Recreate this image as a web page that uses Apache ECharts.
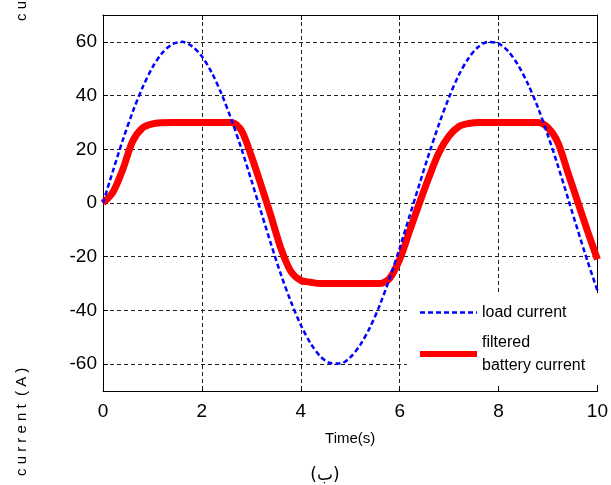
<!DOCTYPE html>
<html>
<head>
<meta charset="utf-8">
<script src="https://cdn.jsdelivr.net/npm/echarts@6/dist/echarts.min.js"></script>
<style>
  html, body { margin: 0; padding: 0; background: #fff; }
  #main { width: 611px; height: 485px; }
</style>
</head>
<body>
<div id="main"></div>
<script>
// time axis (s), read every 0.2 s
var timeS = [0, 0.2, 0.4, 0.6, 0.8, 1.0, 1.2, 1.4, 1.6, 1.8, 2.0, 2.2, 2.4, 2.6, 2.8, 3.0, 3.2, 3.4, 3.6, 3.8,
    4.0, 4.2, 4.4, 4.6, 4.8, 5.0, 5.2, 5.4, 5.6, 5.8, 6.0, 6.2, 6.4, 6.6, 6.8, 7.0, 7.2, 7.4, 7.6, 7.8,
    8.0, 8.2, 8.4, 8.6, 8.8, 9.0, 9.2, 9.4, 9.6, 9.8, 10.0];
// load current (blue dashed)
var loadCurrent = [0, 11.9, 23.4, 33.9, 43.0, 50.5, 55.9, 59.1, 60.0, 58.4, 54.6, 48.5, 40.5, 30.9, 20.2, 8.5, -3.5, -15.4, -26.7, -36.7,
    -45.4, -52.3, -57.2, -59.6, -59.8, -57.5, -52.9, -46.3, -37.9, -27.9, -16.8, -4.9, 7.0, 18.7, 29.6, 39.4, 47.8, 54.1, 58.3, 60.0,
    59.4, 56.4, 51.2, 44.1, 35.4, 25.1, 13.9, 2.0, -10.0, -21.7, -32.6];
// filtered battery current (red)
var batteryCurrent = [0, 4, 12.5, 23, 28, 29.5, 29.9, 30, 30, 30, 30, 30, 30, 30, 27, 17.5, 6.5, -5, -17, -25.5,
    -28.8, -29.5, -30, -30, -30, -30, -30, -30, -30, -28, -21, -10.5, 0, 10, 19, 25, 28.5, 29.6, 30, 30,
    30, 30, 30, 30, 30, 28, 22.5, 11.5, 0.5, -10.5, -21];
var yTicks = [-60, -40, -20, 0, 20, 40, 60];

var myChart = echarts.init(document.getElementById('main'));
var fontMain = "'Liberation Sans', Arial, sans-serif";

function pairs(vals) {
    return timeS.map(function (t, i) { return [t, vals[i]]; });
}

myChart.setOption({
    backgroundColor: '#fff',
    animation: false,
    grid: {
        left: 103,
        right: 12,
        top: 15,
        bottom: 94
    },
    legend: {
        orient: 'vertical',
        left: 407,
        top: 293,
        padding: [8, 14, 8, 10],
        itemGap: 7,
        itemWidth: 57,
        itemHeight: 14,
        backgroundColor: '#fff',
        itemStyle: { opacity: 0 },
        data: [
            { name: 'load current', lineStyle: { width: 2.5, type: [5, 3], color: '#0000ff' } },
            { name: 'filtered\nbattery current', lineStyle: { width: 6, color: '#ff0000' } }
        ],
        textStyle: {
            fontFamily: fontMain,
            fontSize: 16,
            lineHeight: 23,
            color: '#000'
        }
    },
    xAxis: [
        {
            type: 'value',
            min: 0,
            max: 10,
            interval: 2,
            axisLine: { onZero: false, lineStyle: { color: '#000', width: 1 } },
            axisTick: { inside: true, length: 5, lineStyle: { color: '#000' } },
            axisLabel: {
                margin: 11,
                color: '#000',
                fontFamily: fontMain,
                fontSize: 19
            },
            splitLine: {
                show: true,
                lineStyle: { color: '#222', type: [4, 3], width: 1 }
            },
            name: 'Time(s)',
            nameLocation: 'middle',
            nameGap: 40,
            nameTextStyle: {
                color: '#000',
                fontFamily: fontMain,
                fontSize: 15
            }
        },
        {
            type: 'value',
            position: 'top',
            min: 0,
            max: 10,
            interval: 2,
            axisLine: { show: true, onZero: false, lineStyle: { color: '#000', width: 1 } },
            axisTick: { show: true, inside: true, length: 5, lineStyle: { color: '#000' } },
            axisLabel: { show: false },
            splitLine: { show: false }
        }
    ],
    yAxis: [
        {
            type: 'value',
            min: -70,
            max: 70,
            axisLine: { show: true, onZero: false, lineStyle: { color: '#000', width: 1 } },
            axisTick: { show: true, inside: true, length: 5, customValues: yTicks, lineStyle: { color: '#000' } },
            axisLabel: {
                customValues: yTicks,
                margin: 6,
                color: '#000',
                fontFamily: fontMain,
                fontSize: 19
            },
            splitLine: {
                show: true,
                lineStyle: { color: '#222', type: [4, 3], width: 1 }
            }
        },
        {
            type: 'value',
            position: 'right',
            min: -70,
            max: 70,
            axisLine: { show: true, onZero: false, lineStyle: { color: '#000', width: 1 } },
            axisTick: { show: true, inside: true, length: 5, customValues: yTicks, lineStyle: { color: '#000' } },
            axisLabel: { show: false },
            splitLine: { show: false }
        }
    ],
    series: [
        {
            name: 'filtered\nbattery current',
            type: 'line',
            symbol: 'none',
            smooth: 0.3,
            lineStyle: { color: '#ff0000', width: 7 },
            itemStyle: { color: '#ff0000' },
            data: pairs(batteryCurrent)
        },
        {
            name: 'load current',
            type: 'line',
            symbol: 'none',
            smooth: 0.3,
            lineStyle: { color: '#0000ff', width: 2.5, type: [5, 3] },
            itemStyle: { color: '#0000ff' },
            data: pairs(loadCurrent)
        }
    ],
    graphic: [
        {
            type: 'text',
            x: 14,
            y: 476,
            rotation: Math.PI / 2,
            style: {
                text: 'c u r r e n t  ( A )',
                fill: '#000',
                font: "15px 'Liberation Sans', Arial, sans-serif"
            }
        },
        {
            type: 'text',
            x: 14,
            y: 21,
            rotation: Math.PI / 2,
            style: {
                text: 'c u r r e n t',
                fill: '#000',
                font: "15px 'Liberation Sans', Arial, sans-serif"
            }
        },
        {
            type: 'text',
            x: 325,
            y: 476,
            style: {
                text: '(ب)',
                fill: '#000',
                font: "17px 'DejaVu Sans', 'Noto Sans', sans-serif",
                textAlign: 'center',
                textVerticalAlign: 'middle'
            }
        }
    ]
});
</script>
</body>
</html>
